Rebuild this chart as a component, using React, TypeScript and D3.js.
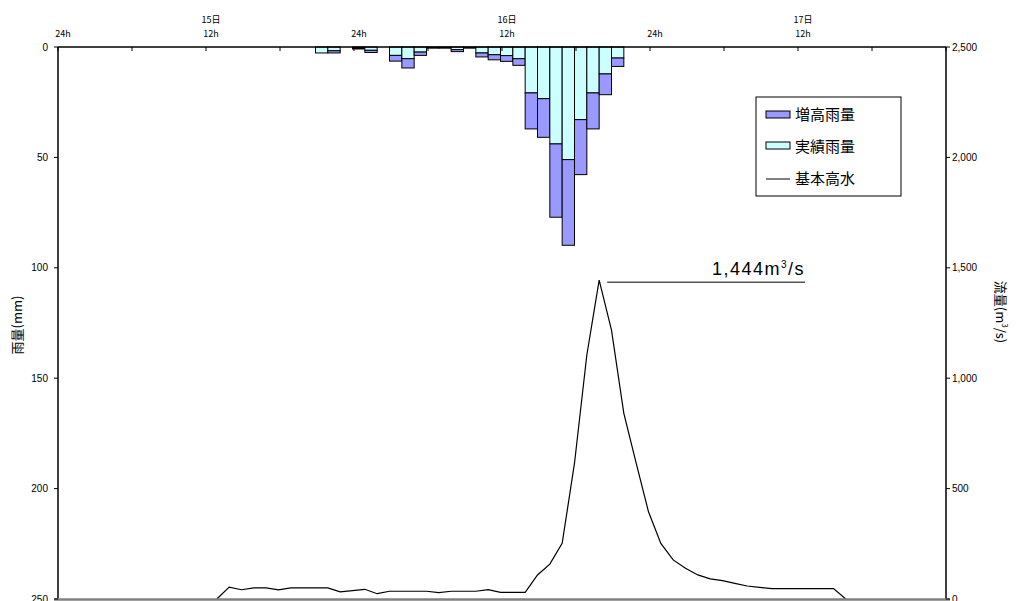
import React from "react";
import * as d3 from "d3";

// Hourly rainfall (mm), bars start at the given hour counted from 14日24h
const rainHours = [21, 22, 24, 25, 27, 28, 29, 30, 31, 32, 33, 34, 35, 36, 37, 38, 39, 40, 41, 42, 43, 44, 45];
const actualRain = [2.7, 1.7, 0.5, 1.5, 3.8, 5.3, 2.3, 0.3, 0.3, 1.2, 0.3, 2.7, 3.5, 3.9, 5.3, 20.8, 23.4, 43.9, 51.0, 32.9, 20.8, 12.2, 5.0];
const extraRain = [0, 1.0, 0.4, 1.0, 2.6, 4.2, 1.5, 0.2, 0.2, 0.9, 0.2, 1.8, 2.3, 2.6, 3.0, 16.3, 17.5, 33.2, 38.8, 24.9, 16.3, 9.4, 3.8];

// Basic high-water discharge (m3/s), hourly from hour 13
const flowStartHour = 13;
const flowValues = [
  0, 54, 42, 50, 50, 41, 50, 50, 50, 50, 32, 38, 44, 24, 35, 35, 35, 35, 29, 35, 35, 35, 42, 30, 30, 30,
  109, 158, 252, 615, 1105, 1444, 1218, 841, 615, 395, 252, 177, 139, 109, 91, 83, 71, 59, 53, 47,
  47, 47, 47, 47, 47, 0,
];
const peakFlow = 1444;

// Top time axis labels
const topLabelHours = [0, 12, 24, 36, 48, 60];
const topLabelDays = ["", "15日", "", "16日", "", "17日"];
const topLabelTimes = ["24h", "12h", "24h", "12h", "24h", "12h"];

const rainTicks = [0, 50, 100, 150, 200, 250];
const flowTicks = [0, 500, 1000, 1500, 2000, 2500];

const legendItems = ["増高雨量", "実績雨量", "基本高水"];

const W = 1016;
const H = 601;
const left = 58;
const right = 946;
const top = 47;
const bottom = 599;

const numFont = "'Liberation Sans', Arial, sans-serif";
const jpFont = "'Noto Sans CJK JP', sans-serif";

export default function App() {
  // time scale in hours from 14日24h; marks sit slightly left of the frame grid
  const x = d3.scaleLinear().domain([0, 72]).range([left - 1.5, right - 1.5]);
  const xTick = d3.scaleLinear().domain([0, 72]).range([left, right]);
  const yRain = d3.scaleLinear().domain([0, 250]).range([top, bottom]);
  const yFlow = d3.scaleLinear().domain([0, 2500]).range([bottom, top]);

  const fmt = d3.format(",");

  const flowPts: [number, number][] = flowValues.map((v, i) => [flowStartHour + i, v]);
  const line = d3
    .line<[number, number]>()
    .x((d) => x(d[0]))
    .y((d) => yFlow(d[1]));

  const peakIdx = flowValues.indexOf(peakFlow);
  const peakHour = flowStartHour + peakIdx;

  const sixHourTicks = d3.range(0, 73, 6);

  return (
    <svg
      width={W}
      height={H}
      style={{ position: "absolute", left: 0, top: 0, background: "#fff" }}
    >
      {/* rainfall bars hanging from the top */}
      {rainHours.map((h, i) => {
        const x0 = x(h);
        const w = x(h + 1) - x(h);
        const a = actualRain[i];
        const e = extraRain[i];
        return (
          <g key={h}>
            <rect
              x={x0}
              y={yRain(0)}
              width={w}
              height={yRain(a) - yRain(0)}
              fill="#CCFFFF"
              stroke="#000"
              strokeWidth={1}
            />
            {e > 0 && (
              <rect
                x={x0}
                y={yRain(a)}
                width={w}
                height={yRain(a + e) - yRain(a)}
                fill="#9999FF"
                stroke="#000"
                strokeWidth={1}
              />
            )}
          </g>
        );
      })}

      {/* discharge hydrograph */}
      <path d={line(flowPts) ?? ""} fill="none" stroke="#000" strokeWidth={1.2} />

      {/* peak annotation */}
      <line
        x1={x(peakHour) + 8}
        x2={805}
        y1={yFlow(peakFlow) + 2}
        y2={yFlow(peakFlow) + 2}
        stroke="#000"
        strokeWidth={1}
      />
      <text
        x={805}
        y={yFlow(peakFlow) - 5}
        textAnchor="end"
        fontFamily={numFont}
        fontSize={18}
        letterSpacing={1.5}
        fill="#000"
      >
        {fmt(peakFlow)}m<tspan fontSize={10} dy={-7}>3</tspan>
        <tspan dy={7}>/s</tspan>
      </text>

      {/* frame */}
      <line x1={left} x2={right} y1={top} y2={top} stroke="#000" strokeWidth={1.5} />
      <line x1={left} x2={left} y1={top} y2={bottom} stroke="#000" strokeWidth={1.5} />
      <line x1={right} x2={right} y1={top} y2={bottom} stroke="#000" strokeWidth={1.5} />
      <line x1={left - 4} x2={right + 4} y1={bottom + 0.5} y2={bottom + 0.5} stroke="#808080" strokeWidth={2.5} />

      {/* top time ticks */}
      {sixHourTicks.map((h) => (
        <line key={h} x1={xTick(h)} x2={xTick(h)} y1={top} y2={top + 4} stroke="#000" strokeWidth={1} />
      ))}
      {topLabelHours.map((h, i) => (
        <g key={h} fontFamily={jpFont} fontSize={9} fill="#000" textAnchor="middle">
          {topLabelDays[i] && (
            <text x={xTick(h) + 5} y={23}>
              {topLabelDays[i]}
            </text>
          )}
          <text x={xTick(h) + 5} y={37}>
            {topLabelTimes[i]}
          </text>
        </g>
      ))}

      {/* left rainfall axis */}
      {rainTicks.map((t) => (
        <g key={t}>
          <line x1={left - 4} x2={left} y1={yRain(t)} y2={yRain(t)} stroke="#000" strokeWidth={1} />
          <text x={48} y={yRain(t) + 3.5} textAnchor="end" fontFamily={numFont} fontSize={10} fill="#000">
            {t}
          </text>
        </g>
      ))}
      <text
        transform={`translate(22,325) rotate(-90)`}
        textAnchor="middle"
        fontFamily={jpFont}
        fontSize={13}
        fill="#000"
      >
        雨量(mm)
      </text>

      {/* right discharge axis */}
      {flowTicks.map((t) => (
        <g key={t}>
          <line x1={right} x2={right + 4} y1={yFlow(t)} y2={yFlow(t)} stroke="#000" strokeWidth={1} />
          <text x={952} y={yFlow(t) + 3.5} textAnchor="start" fontFamily={numFont} fontSize={10} fill="#000">
            {fmt(t)}
          </text>
        </g>
      ))}
      <text
        transform={`translate(996,312) rotate(90)`}
        textAnchor="middle"
        fontFamily={jpFont}
        fontSize={13}
        fill="#000"
      >
        流量(m<tspan fontSize={8} dy={-6}>3</tspan>
        <tspan dy={6}>/s)</tspan>
      </text>

      {/* legend */}
      <rect x={756} y={97} width={145} height={99} fill="#fff" stroke="#000" strokeWidth={1} />
      <rect x={766} y={111} width={24} height={7} fill="#9999FF" stroke="#000" strokeWidth={1} />
      <rect x={766} y={142} width={24} height={7} fill="#CCFFFF" stroke="#000" strokeWidth={1} />
      <line x1={766} x2={790} y1={179} y2={179} stroke="#000" strokeWidth={1} />
      {legendItems.map((s, i) => (
        <text key={s} x={795} y={120 + i * 32} fontFamily={jpFont} fontSize={15} fill="#000">
          {s}
        </text>
      ))}
    </svg>
  );
}
